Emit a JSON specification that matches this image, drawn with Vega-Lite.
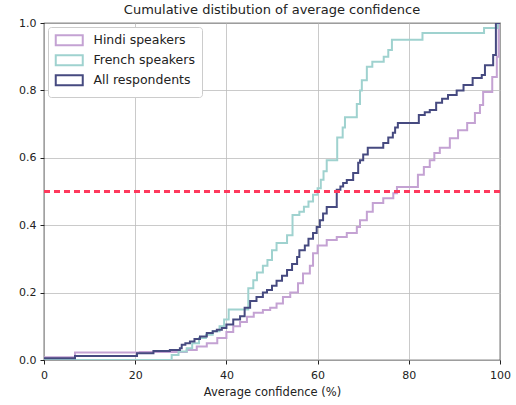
{
  "$schema": "https://vega.github.io/schema/vega-lite/v6.json",
  "width": 456,
  "height": 337,
  "autosize": {"type": "none"},
  "padding": {"left": 44, "top": 23, "right": 16, "bottom": 45},
  "background": "white",
  "title": {"text": "Cumulative distibution of average confidence", "font": "DejaVu Sans", "fontSize": 13, "fontWeight": "normal", "color": "#222222", "offset": 0},
  "config": {
    "view": {"stroke": "#222222", "strokeWidth": 1.2},
    "axis": {"domain": false, "tickColor": "#222222", "tickSize": 4, "labelFont": "DejaVu Sans", "labelFontSize": 11, "labelColor": "#222222", "labelFlush": false, "titleFont": "DejaVu Sans", "titleFontSize": 11.5, "titleFontWeight": "normal", "titleColor": "#222222", "gridColor": "#bdbdbd", "gridWidth": 0.8}
  },
  "data": {"values": [
    {"s": "Hindi speakers", "x": 0, "y": 0.008},
    {"s": "Hindi speakers", "x": 6.8, "y": 0.022},
    {"s": "Hindi speakers", "x": 21, "y": 0.024},
    {"s": "Hindi speakers", "x": 31.3, "y": 0.03},
    {"s": "Hindi speakers", "x": 33.5, "y": 0.04},
    {"s": "Hindi speakers", "x": 35.7, "y": 0.05},
    {"s": "Hindi speakers", "x": 38, "y": 0.065},
    {"s": "Hindi speakers", "x": 40, "y": 0.083},
    {"s": "Hindi speakers", "x": 41.5, "y": 0.1},
    {"s": "Hindi speakers", "x": 43, "y": 0.113},
    {"s": "Hindi speakers", "x": 44.5, "y": 0.128},
    {"s": "Hindi speakers", "x": 46, "y": 0.14},
    {"s": "Hindi speakers", "x": 48, "y": 0.148},
    {"s": "Hindi speakers", "x": 49.6, "y": 0.155},
    {"s": "Hindi speakers", "x": 51, "y": 0.168},
    {"s": "Hindi speakers", "x": 52.4, "y": 0.187},
    {"s": "Hindi speakers", "x": 54, "y": 0.2},
    {"s": "Hindi speakers", "x": 55.7, "y": 0.228},
    {"s": "Hindi speakers", "x": 56.8, "y": 0.257},
    {"s": "Hindi speakers", "x": 58.3, "y": 0.28},
    {"s": "Hindi speakers", "x": 59, "y": 0.317},
    {"s": "Hindi speakers", "x": 60, "y": 0.34},
    {"s": "Hindi speakers", "x": 62, "y": 0.356},
    {"s": "Hindi speakers", "x": 64.2, "y": 0.365},
    {"s": "Hindi speakers", "x": 66.4, "y": 0.377},
    {"s": "Hindi speakers", "x": 68.6, "y": 0.395},
    {"s": "Hindi speakers", "x": 69.3, "y": 0.415},
    {"s": "Hindi speakers", "x": 70.8, "y": 0.44},
    {"s": "Hindi speakers", "x": 72.1, "y": 0.466},
    {"s": "Hindi speakers", "x": 74.4, "y": 0.48},
    {"s": "Hindi speakers", "x": 76.6, "y": 0.495},
    {"s": "Hindi speakers", "x": 77.4, "y": 0.513},
    {"s": "Hindi speakers", "x": 82, "y": 0.55},
    {"s": "Hindi speakers", "x": 83.3, "y": 0.573},
    {"s": "Hindi speakers", "x": 84.6, "y": 0.593},
    {"s": "Hindi speakers", "x": 85.6, "y": 0.614},
    {"s": "Hindi speakers", "x": 86.8, "y": 0.63},
    {"s": "Hindi speakers", "x": 89, "y": 0.658},
    {"s": "Hindi speakers", "x": 90.8, "y": 0.682},
    {"s": "Hindi speakers", "x": 92.8, "y": 0.703},
    {"s": "Hindi speakers", "x": 94.5, "y": 0.733},
    {"s": "Hindi speakers", "x": 95.6, "y": 0.757},
    {"s": "Hindi speakers", "x": 96.3, "y": 0.795},
    {"s": "Hindi speakers", "x": 98.3, "y": 0.84},
    {"s": "Hindi speakers", "x": 99.3, "y": 0.9},
    {"s": "Hindi speakers", "x": 99.7, "y": 1.0},
    {"s": "Hindi speakers", "x": 100, "y": 1.0},
    {"s": "French speakers", "x": 0, "y": 0},
    {"s": "French speakers", "x": 28, "y": 0.015},
    {"s": "French speakers", "x": 29.5, "y": 0.025},
    {"s": "French speakers", "x": 31.3, "y": 0.035},
    {"s": "French speakers", "x": 32.5, "y": 0.05},
    {"s": "French speakers", "x": 34, "y": 0.065},
    {"s": "French speakers", "x": 35.5, "y": 0.075},
    {"s": "French speakers", "x": 37, "y": 0.085},
    {"s": "French speakers", "x": 38.5, "y": 0.1},
    {"s": "French speakers", "x": 39.5, "y": 0.12},
    {"s": "French speakers", "x": 40.5, "y": 0.15},
    {"s": "French speakers", "x": 44.8, "y": 0.213},
    {"s": "French speakers", "x": 45.9, "y": 0.237},
    {"s": "French speakers", "x": 46.7, "y": 0.26},
    {"s": "French speakers", "x": 48, "y": 0.28},
    {"s": "French speakers", "x": 49, "y": 0.297},
    {"s": "French speakers", "x": 50, "y": 0.326},
    {"s": "French speakers", "x": 51, "y": 0.347},
    {"s": "French speakers", "x": 53.3, "y": 0.37},
    {"s": "French speakers", "x": 54.5, "y": 0.43},
    {"s": "French speakers", "x": 56, "y": 0.44},
    {"s": "French speakers", "x": 57, "y": 0.455},
    {"s": "French speakers", "x": 58, "y": 0.47},
    {"s": "French speakers", "x": 59, "y": 0.49},
    {"s": "French speakers", "x": 60, "y": 0.51},
    {"s": "French speakers", "x": 60.7, "y": 0.535},
    {"s": "French speakers", "x": 61.3, "y": 0.56},
    {"s": "French speakers", "x": 62, "y": 0.593},
    {"s": "French speakers", "x": 64.3, "y": 0.66},
    {"s": "French speakers", "x": 65.5, "y": 0.69},
    {"s": "French speakers", "x": 66, "y": 0.72},
    {"s": "French speakers", "x": 68.6, "y": 0.76},
    {"s": "French speakers", "x": 69.3, "y": 0.8},
    {"s": "French speakers", "x": 69.7, "y": 0.83},
    {"s": "French speakers", "x": 70.8, "y": 0.87},
    {"s": "French speakers", "x": 72, "y": 0.885},
    {"s": "French speakers", "x": 74.5, "y": 0.9},
    {"s": "French speakers", "x": 75.5, "y": 0.92},
    {"s": "French speakers", "x": 76.3, "y": 0.95},
    {"s": "French speakers", "x": 83, "y": 0.97},
    {"s": "French speakers", "x": 96.5, "y": 0.985},
    {"s": "French speakers", "x": 99.5, "y": 1.0},
    {"s": "French speakers", "x": 100, "y": 1.0},
    {"s": "All respondents", "x": 0, "y": 0.005},
    {"s": "All respondents", "x": 6.8, "y": 0.012},
    {"s": "All respondents", "x": 20.4, "y": 0.02},
    {"s": "All respondents", "x": 24, "y": 0.027},
    {"s": "All respondents", "x": 27.6, "y": 0.03},
    {"s": "All respondents", "x": 29.8, "y": 0.035},
    {"s": "All respondents", "x": 30.2, "y": 0.045},
    {"s": "All respondents", "x": 31, "y": 0.05},
    {"s": "All respondents", "x": 32, "y": 0.055},
    {"s": "All respondents", "x": 33, "y": 0.062},
    {"s": "All respondents", "x": 34.2, "y": 0.07},
    {"s": "All respondents", "x": 35.7, "y": 0.08},
    {"s": "All respondents", "x": 37, "y": 0.085},
    {"s": "All respondents", "x": 37.9, "y": 0.09},
    {"s": "All respondents", "x": 39, "y": 0.095},
    {"s": "All respondents", "x": 40, "y": 0.105},
    {"s": "All respondents", "x": 41.5, "y": 0.12},
    {"s": "All respondents", "x": 43, "y": 0.13},
    {"s": "All respondents", "x": 44, "y": 0.155},
    {"s": "All respondents", "x": 45.2, "y": 0.175},
    {"s": "All respondents", "x": 46.6, "y": 0.187},
    {"s": "All respondents", "x": 48, "y": 0.2},
    {"s": "All respondents", "x": 48.9, "y": 0.208},
    {"s": "All respondents", "x": 50, "y": 0.22},
    {"s": "All respondents", "x": 51, "y": 0.235},
    {"s": "All respondents", "x": 52.2, "y": 0.25},
    {"s": "All respondents", "x": 53.3, "y": 0.267},
    {"s": "All respondents", "x": 54.4, "y": 0.285},
    {"s": "All respondents", "x": 55.5, "y": 0.306},
    {"s": "All respondents", "x": 56, "y": 0.326},
    {"s": "All respondents", "x": 57.2, "y": 0.34},
    {"s": "All respondents", "x": 58, "y": 0.36},
    {"s": "All respondents", "x": 59, "y": 0.377},
    {"s": "All respondents", "x": 59.8, "y": 0.395},
    {"s": "All respondents", "x": 60.5, "y": 0.415},
    {"s": "All respondents", "x": 61.2, "y": 0.435},
    {"s": "All respondents", "x": 62, "y": 0.454},
    {"s": "All respondents", "x": 64.2, "y": 0.505},
    {"s": "All respondents", "x": 65, "y": 0.515},
    {"s": "All respondents", "x": 65.6, "y": 0.525},
    {"s": "All respondents", "x": 66.4, "y": 0.534},
    {"s": "All respondents", "x": 67.8, "y": 0.555},
    {"s": "All respondents", "x": 68.9, "y": 0.585},
    {"s": "All respondents", "x": 69.3, "y": 0.593},
    {"s": "All respondents", "x": 70, "y": 0.61},
    {"s": "All respondents", "x": 71, "y": 0.63},
    {"s": "All respondents", "x": 74.4, "y": 0.644},
    {"s": "All respondents", "x": 75.5, "y": 0.66},
    {"s": "All respondents", "x": 76.5, "y": 0.674},
    {"s": "All respondents", "x": 77, "y": 0.69},
    {"s": "All respondents", "x": 77.6, "y": 0.703},
    {"s": "All respondents", "x": 82.2, "y": 0.727},
    {"s": "All respondents", "x": 83.5, "y": 0.735},
    {"s": "All respondents", "x": 84.6, "y": 0.742},
    {"s": "All respondents", "x": 86, "y": 0.763},
    {"s": "All respondents", "x": 87.3, "y": 0.775},
    {"s": "All respondents", "x": 88.6, "y": 0.786},
    {"s": "All respondents", "x": 90.5, "y": 0.8},
    {"s": "All respondents", "x": 92, "y": 0.816},
    {"s": "All respondents", "x": 94, "y": 0.837},
    {"s": "All respondents", "x": 96, "y": 0.846},
    {"s": "All respondents", "x": 96.7, "y": 0.875},
    {"s": "All respondents", "x": 98.5, "y": 0.905},
    {"s": "All respondents", "x": 99.1, "y": 1.0},
    {"s": "All respondents", "x": 100, "y": 1.0}
  ]},
  "layer": [
    {
      "mark": {"type": "line", "interpolate": "step-after", "clip": true},
      "encoding": {
        "x": {"field": "x", "type": "quantitative", "scale": {"domain": [0, 100], "nice": false, "zero": false},
              "axis": {"values": [0, 20, 40, 60, 80, 100], "title": "Average confidence (%)", "labelPadding": 5, "titlePadding": 6}},
        "y": {"field": "y", "type": "quantitative", "scale": {"domain": [0, 1], "nice": false},
              "axis": {"values": [0, 0.2, 0.4, 0.6, 0.8, 1.0], "format": ".1f", "title": null, "labelPadding": 4}},
        "color": {"field": "s", "type": "nominal",
                  "scale": {"domain": ["Hindi speakers", "French speakers", "All respondents"], "range": ["#c4a2d3", "#9fd2cf", "#464a80"]},
                  "legend": {"title": null, "orient": "top-left", "offset": 4, "symbolType": "M-2.7,-1H2.7V1H-2.7Z", "symbolSize": 100, "symbolOffset": 8, "symbolStrokeWidth": 2, "symbolFillColor": "white", "labelFont": "DejaVu Sans", "labelFontSize": 12.5, "labelColor": "#222222", "labelOffset": 18, "rowPadding": 1, "padding": 7, "strokeColor": "#cccccc", "fillColor": "white", "cornerRadius": 3}},
        "strokeWidth": {"field": "s", "type": "nominal", "scale": {"domain": ["Hindi speakers", "French speakers", "All respondents"], "range": [2, 2, 2.6]}, "legend": null}
      }
    },
    {
      "mark": {"type": "rule", "color": "#ff3a5c", "strokeDash": [6, 4], "strokeWidth": 1.6},
      "encoding": {"y": {"datum": 0.5}}
    }
  ]
}
